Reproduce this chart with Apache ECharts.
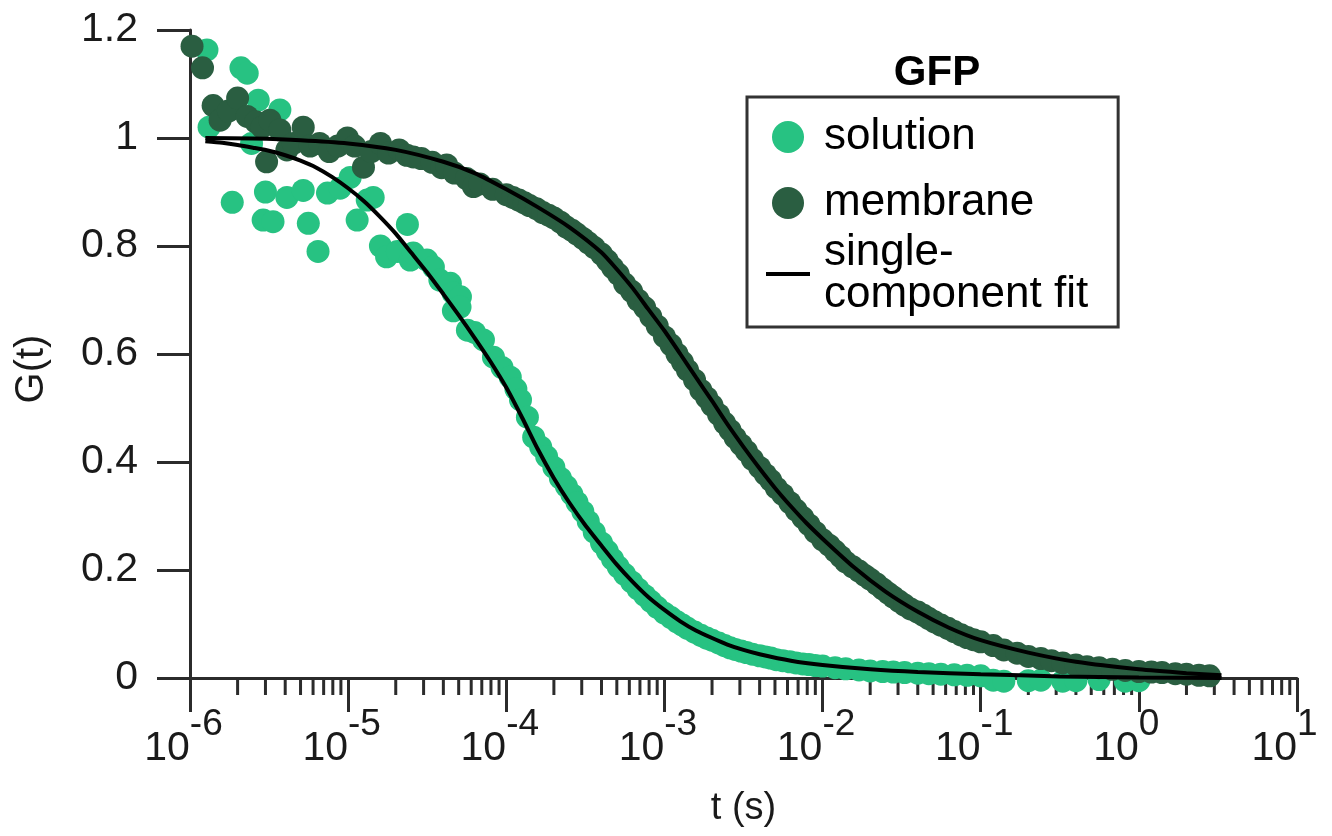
<!DOCTYPE html>
<html><head><meta charset="utf-8">
<script src="https://cdn.jsdelivr.net/npm/echarts@6/dist/echarts.min.js"></script>
<style>html,body{margin:0;padding:0;background:#fff}#c{width:1332px;height:836px}</style>
</head><body><div id="c"></div>
<script>
// ---- data (t in seconds, G(t)) ----
const solution = [
[1.28e-6,1.163],[1.32e-6,1.02],[1.85e-6,0.881],[2.1e-6,1.13],[2.3e-6,1.12],[2.45e-6,0.99],[2.7e-6,1.07],[2.9e-6,0.848],[3.0e-6,0.90],[3.35e-6,0.845],[3.7e-6,1.052],[4.1e-6,0.89],[5.2e-6,0.903],[5.6e-6,0.842],[6.45e-6,0.79],[7.4e-6,0.898],[8.9e-6,0.907],[1.03e-5,0.927],[1.14e-5,0.848],[1.32e-5,0.885],[1.44e-5,0.89],[1.6e-5,0.80],[1.75e-5,0.78],[2.05e-5,0.79],[2.37e-5,0.84],[2.47e-5,0.774],[2.58e-5,0.787],[3.15e-5,0.774],[3.46e-5,0.761],[3.8e-5,0.737],[4.43e-5,0.731],[4.6e-5,0.713],[4.63e-5,0.68],[5.13e-5,0.706],[5.1e-5,0.687],[5.68e-5,0.644],[6.3e-5,0.64],[7.17e-5,0.626],[8.3e-5,0.594],[9.4e-5,0.575],[1.06e-4,0.557],[1.15e-4,0.535],[1.23e-4,0.515],[1.36e-4,0.483],[1.49e-4,0.446],[1.65e-4,0.428],[1.8e-4,0.41],[2.0e-4,0.39],[2.2e-4,0.37],[2.4e-4,0.355],[2.6e-4,0.34],[2.8e-4,0.325],[3.05e-4,0.308],[3.3e-4,0.29],[3.6e-4,0.27],[4.0e-4,0.25],[4.35e-4,0.235],[4.7e-4,0.22],[5.1e-4,0.206],[5.6e-4,0.192],[6.2e-4,0.178],[6.8e-4,0.165],[7.5e-4,0.153],[8.2e-4,0.142],[9.0e-4,0.131],[1e-3,0.12],[1.1e-3,0.112],[1.2e-3,0.104],[1.3e-3,0.098],[1.4e-3,0.092],[1.55e-3,0.085],[1.7e-3,0.079],[1.85e-3,0.074],[2e-3,0.07],[2.2e-3,0.065],[2.4e-3,0.06],[2.6e-3,0.056],[2.8e-3,0.053],[3.05e-3,0.05],[3.3e-3,0.047],[3.6e-3,0.044],[4e-3,0.041],[4.35e-3,0.039],[4.7e-3,0.037],[5.1e-3,0.034],[5.6e-3,0.032],[6.2e-3,0.03],[6.8e-3,0.028],[7.5e-3,0.026],[8.2e-3,0.025],[9.0e-3,0.023],[1e-2,0.022],[1.2e-2,0.019],[1.4e-2,0.017],[1.7e-2,0.015],[2e-2,0.013],[2.4e-2,0.012],[2.8e-2,0.011],[3.3e-2,0.01],[4e-2,0.009],[4.7e-2,0.008],[5.6e-2,0.007],[6.8e-2,0.006],[8.2e-2,0.005],[0.1,0.004],[0.12,-0.004],[0.14,-0.006],[0.2,-0.005],[0.24,-0.004],[0.33,-0.006],[0.4,-0.005],[0.56,-0.003],[0.82,-0.006],[1.0,-0.005]
];
const membrane = [
[1.03e-6,1.17],[1.2e-6,1.13],[1.4e-6,1.06],[1.55e-6,1.033],[1.75e-6,1.05],[2.0e-6,1.074],[2.3e-6,1.04],[2.6e-6,1.03],[2.85e-6,1.02],[3.05e-6,0.956],[3.2e-6,1.033],[3.7e-6,1.015],[4.1e-6,0.978],[4.5e-6,0.99],[5.2e-6,1.02],[5.75e-6,0.985],[6.6e-6,0.99],[7.6e-6,0.975],[8.6e-6,0.985],[9.9e-6,1.0],[1.1e-5,0.985],[1.25e-5,0.946],[1.4e-5,0.975],[1.6e-5,0.99],[1.8e-5,0.972],[2.1e-5,0.978],[2.35e-5,0.968],[2.58e-5,0.965],[2.9e-5,0.962],[3.4e-5,0.955],[3.9e-5,0.945],[4.2e-5,0.95],
[4.7e-5,0.935],[5.6e-5,0.925],[6.2e-5,0.91],[6.8e-5,0.915],[8.2e-5,0.905],
[1e-4,0.895],[1.1e-4,0.89],[1.2e-4,0.885],[1.3e-4,0.88],[1.4e-4,0.875],[1.55e-4,0.869],[1.7e-4,0.862],[1.85e-4,0.857],[2.0e-4,0.852],[2.2e-4,0.844],[2.4e-4,0.835],[2.6e-4,0.829],[2.8e-4,0.822],[3.05e-4,0.814],[3.3e-4,0.806],[3.6e-4,0.797],[4.0e-4,0.785],[4.35e-4,0.773],[4.7e-4,0.76],[5.1e-4,0.748],[5.6e-4,0.73],[6.2e-4,0.716],[6.8e-4,0.70],[7.5e-4,0.686],[8.2e-4,0.669],[9.0e-4,0.652],
[1e-3,0.632],[1.1e-3,0.617],[1.2e-3,0.60],[1.3e-3,0.585],[1.4e-3,0.57],[1.55e-3,0.552],[1.7e-3,0.533],[1.85e-3,0.519],[2.0e-3,0.505],[2.2e-3,0.488],[2.4e-3,0.472],[2.6e-3,0.459],[2.8e-3,0.445],[3.05e-3,0.432],[3.3e-3,0.42],[3.6e-3,0.405],[4.0e-3,0.39],[4.35e-3,0.377],[4.7e-3,0.366],[5.1e-3,0.352],[5.6e-3,0.34],[6.2e-3,0.325],[6.8e-3,0.311],[7.5e-3,0.297],[8.2e-3,0.284],[9.0e-3,0.27],
[1e-2,0.256],[1.1e-2,0.246],[1.2e-2,0.235],[1.3e-2,0.225],[1.4e-2,0.215],[1.55e-2,0.206],[1.7e-2,0.198],[1.85e-2,0.19],[2e-2,0.183],[2.2e-2,0.174],[2.4e-2,0.165],[2.6e-2,0.157],[2.8e-2,0.15],[3.05e-2,0.142],[3.3e-2,0.135],[3.6e-2,0.128],[4e-2,0.122],[4.35e-2,0.116],[4.7e-2,0.11],[5.1e-2,0.104],[5.6e-2,0.098],[6.2e-2,0.092],[6.8e-2,0.086],[7.5e-2,0.08],[8.2e-2,0.075],[9.0e-2,0.071],
[0.1,0.067],[0.12,0.06],[0.14,0.052],[0.17,0.046],[0.2,0.04],[0.24,0.036],[0.28,0.032],[0.33,0.028],[0.4,0.024],[0.47,0.021],[0.56,0.019],[0.68,0.016],[0.82,0.014],[1.0,0.012],[1.2,0.011],[1.4,0.01],[1.7,0.008],[2.0,0.007],[2.4,0.005],[2.8,0.004]
];
const solutionFit = [[1.25e-6,0.994],[1.6e-6,0.991],[2.0e-6,0.987],[2.5e-6,0.982],[3.2e-6,0.976],[4.0e-6,0.968],[5.0e-6,0.958],[6.3e-6,0.945],[7.9e-6,0.928],[1.0e-5,0.907],[1.26e-5,0.883],[1.58e-5,0.855],[2.0e-5,0.823],[2.5e-5,0.788],[3.16e-5,0.751],[4.0e-5,0.711],[5.0e-5,0.672],[6.3e-5,0.63],[7.9e-5,0.587],[1.0e-4,0.538],[1.26e-4,0.482],[1.58e-4,0.424],[2.0e-4,0.37],[2.5e-4,0.325],[3.16e-4,0.283],[4.0e-4,0.245],[5.0e-4,0.21],[6.3e-4,0.178],[7.9e-4,0.15],[1e-3,0.126],[1.26e-3,0.105],[1.58e-3,0.088],[2.0e-3,0.074],[2.5e-3,0.062],[3.16e-3,0.052],[4e-3,0.044],[6.3e-3,0.032],[1e-2,0.024],[2e-2,0.016],[4e-2,0.011],[0.1,0.007],[0.316,0.003],[1,0.001],[3.33,0.0]];
const membraneFit = [[1.25e-6,1.0],[2.5e-6,0.999],[5e-6,0.996],[1e-5,0.99],[2e-5,0.978],[4e-5,0.956],[6.3e-5,0.935],[1e-4,0.905],[1.58e-4,0.872],[2.5e-4,0.835],[4e-4,0.788],[5e-4,0.757],[6.3e-4,0.722],[7.9e-4,0.683],[1e-3,0.643],[1.26e-3,0.6],[1.58e-3,0.557],[2e-3,0.513],[2.5e-3,0.47],[3.16e-3,0.428],[4e-3,0.388],[5e-3,0.352],[6.3e-3,0.318],[7.9e-3,0.287],[1e-2,0.258],[1.58e-2,0.205],[2.5e-2,0.16],[3.98e-2,0.123],[6.3e-2,0.093],[0.1,0.07],[0.2,0.047],[0.4,0.03],[1,0.016],[2,0.009],[3.33,0.005]];
const xExponents = [-6,-5,-4,-3,-2,-1,0,1];
const minorMantissas = [2,3,4,5,6,7,8,9];
const yTickLabels = ['0','0.2','0.4','0.6','0.8','1','1.2'];

// minor tick positions (2..9 x 10^n) for the log axis
const minorTicks = [];
xExponents.slice(0,-1).forEach(e => minorMantissas.forEach(m => minorTicks.push([m*Math.pow(10,e),0])));

const FONT = '"Liberation Sans", Arial, Helvetica, sans-serif';
const AX = '#2b2b2b';
const TXT = '#1a1a1a';
const chart = echarts.init(document.getElementById('c'), null, {renderer:'canvas'});
chart.setOption({
  animation:false,
  backgroundColor:'#fff',
  title:{text:'GFP', left:932, top:47, textAlign:'center',
    textStyle:{fontFamily:FONT, fontSize:42, fontWeight:'bold', color:'#000'}},
  legend:{
    orient:'vertical', left:747, top:97,
    borderColor:'#333', borderWidth:3, borderRadius:0,
    padding:[2,30,10,19],
    itemWidth:44, itemHeight:32, itemGap:-10,
    selectedMode:false, symbolKeepAspect:true,
    textStyle:{fontFamily:FONT, fontSize:44, lineHeight:42, color:'#000', padding:[17,0,17,9]},
    formatter: n => n === 'single-component fit' ? 'single-\ncomponent fit' : n,
    data:[
      {name:'solution', icon:'circle'},
      {name:'membrane', icon:'circle'},
      {name:'single-component fit', icon:'path://M0,0H44V4H0Z',
        itemStyle:{color:'#000'}, textStyle:{padding:[0,0,0,9]}}
    ]
  },
  grid:{left:190, right:35, top:30, bottom:158, containLabel:false, outerBoundsMode:'none'},
  xAxis:{
    type:'log', logBase:10, min:1e-6, max:10, splitNumber:7,
    name:'t (s)', nameLocation:'middle', nameGap:112,
    nameTextStyle:{fontFamily:FONT, fontSize:38, color:TXT},
    axisLine:{lineStyle:{color:AX, width:3}},
    axisTick:{length:34, lineStyle:{color:AX, width:3}},
    splitLine:{show:false}, minorTick:{show:false},
    axisLabel:{
      margin:26,
      formatter: v => {
        const e = String(Math.round(Math.log10(v)));
        return '{b|10}{' + (e.length > 1 ? 's2' : 's1') + '|' + e + '}';
      },
      rich:{
        b:{fontFamily:FONT, fontSize:41, color:TXT, padding:[24,0,0,0]},
        s2:{fontFamily:FONT, fontSize:37, color:TXT, padding:[0,13,24,0]},
        s1:{fontFamily:FONT, fontSize:37, color:TXT, padding:[0,25,24,0]}
      }
    }
  },
  yAxis:{
    type:'value', min:0, max:1.2, interval:0.2,
    name:'G(t)', nameLocation:'middle', nameGap:138, nameRotate:90,
    nameTextStyle:{fontFamily:FONT, fontSize:40, color:TXT, padding:[0,0,0,-30]},
    axisLine:{show:true, lineStyle:{color:AX, width:3}},
    axisTick:{show:true, length:33, lineStyle:{color:AX, width:3}},
    splitLine:{show:false},
    axisLabel:{margin:52, fontFamily:FONT, fontSize:41, color:TXT,
      formatter:(v) => yTickLabels[Math.round(v/0.2)]}
  },
  series:[
    {type:'custom', name:'minorTicks', silent:true, z:1, clip:false, data:minorTicks,
      renderItem:(params, api) => {
        const p = api.coord([api.value(0), 0]);
        return {type:'line', shape:{x1:p[0], y1:p[1], x2:p[0], y2:p[1]+17},
          style:{stroke:AX, lineWidth:3}};
      }},
    {type:'scatter', name:'solution', data:solution, symbolSize:23, clip:false, z:2,
      itemStyle:{color:'#27c282', opacity:1}},
    {type:'scatter', name:'membrane', data:membrane, symbolSize:23, clip:false, z:3,
      itemStyle:{color:'#2a5e41', opacity:1}},
    {type:'line', name:'single-component fit', data:solutionFit, showSymbol:false, symbol:'none',
      smooth:0.2, z:4, itemStyle:{color:'#000'}, lineStyle:{color:'#000', width:4}},
    {type:'line', name:'single-component fit', data:membraneFit, showSymbol:false, symbol:'none',
      smooth:0.2, z:4, itemStyle:{color:'#000'}, lineStyle:{color:'#000', width:4}}
  ]
});
</script></body></html>
